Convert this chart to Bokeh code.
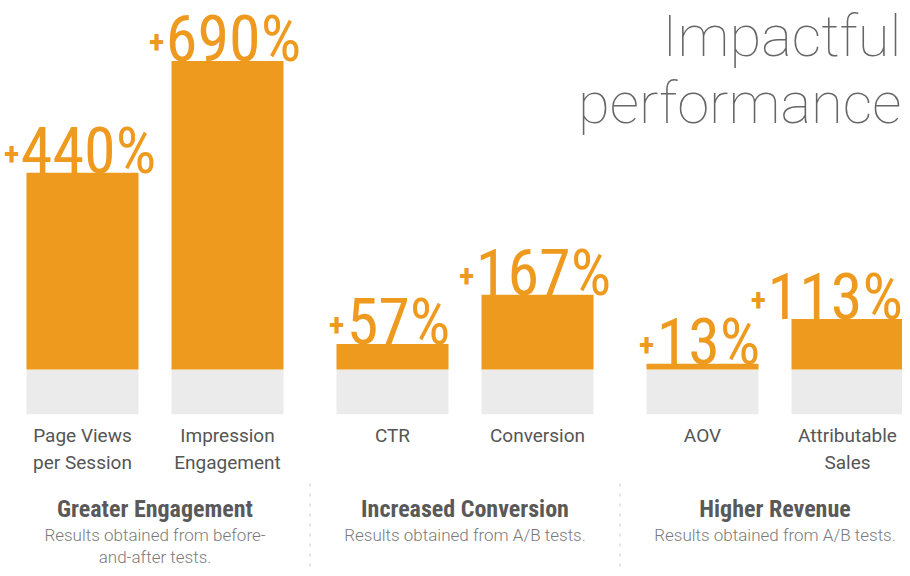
from bokeh.plotting import figure
from bokeh.models import Range1d, ColumnDataSource
from bokeh.core.properties import value
from bokeh.embed import file_html
from bokeh.resources import INLINE

# ---------------- data ----------------
categories = ["Page Views\nper Session", "Impression\nEngagement", "CTR",
              "Conversion", "AOV", "Attributable\nSales"]
lifts = [440, 690, 57, 167, 13, 113]          # % improvement
group_of = [0, 0, 1, 1, 2, 2]
group_titles = ["Greater Engagement", "Increased Conversion", "Higher Revenue"]
group_notes = ["Results obtained from before-\nand-after tests.",
               "Results obtained from A/B tests.",
               "Results obtained from A/B tests."]
baseline_pct = 100                              # the "before" level
title_lines = ["Impactful", "performance"]

# ---------------- styles / layout ----------------
W, H = 902, 568
BASE_PX = 369          # pixel row (from top of figure) of the 0% line
PX_PER_PCT = 0.447
X0, PITCH, GAP, BAR_W = 82, 145, 20, 112
ORANGE = "#EE9A1E"
GRAY = "#EBEBEB"
COND = "'Roboto Condensed', 'Noto Sans ExtraCondensed', 'DejaVu Sans Condensed', sans-serif"
NUM_SIZE = 64
PLUS_SIZE = 32
SHIFT = 0.37           # renderer places the alphabetic baseline ~0.37em low


def ypx(py):
    """figure pixel row -> data y"""
    return (BASE_PX - py) / PX_PER_PCT


def row(baseline_px, fs):
    return ypx(baseline_px - SHIFT * fs)


p = figure(width=W, height=H, output_backend="svg", toolbar_location=None,
           x_range=Range1d(0, W),
           y_range=Range1d(ypx(H), ypx(0)),
           min_border=0, outline_line_color=None)
p.axis.visible = False
p.grid.visible = False
p.background_fill_color = "white"
p.border_fill_color = "white"

xs = [X0 + i * PITCH + g * GAP for i, g in enumerate(group_of)]

# label geometry: number centred a little right of the bar centre, kept inside the figure
num_w = [NUM_SIZE * (0.47 * len(str(v)) + 0.66) for v in lifts]
num_off = [min(6, (W - 1 - w / 2) - x) for x, w in zip(xs, num_w)]
plus_off = [o - w / 2 - 3 for o, w in zip(num_off, num_w)]

src = ColumnDataSource(dict(
    x=xs, lift=lifts,
    num=[f"{v}%" for v in lifts],
    plus=["+"] * len(lifts),
    num_off=num_off, plus_off=plus_off,
))

# baseline (before) block and lift bars
p.vbar(x=xs, bottom=-baseline_pct, top=0, width=BAR_W, fill_color=GRAY, line_color=None)
p.vbar(x="x", bottom=0, top="lift", width=BAR_W, fill_color=ORANGE, line_color=None, source=src)

# value labels
p.text(x="x", y="lift", text="num", source=src, x_offset="num_off",
       y_offset=-SHIFT * NUM_SIZE + 2,
       text_align="center", text_baseline="alphabetic",
       text_font=value(COND), text_font_size=f"{NUM_SIZE}px", text_color=ORANGE)
p.text(x="x", y="lift", text="plus", source=src, x_offset="plus_off",
       y_offset=-7 - SHIFT * PLUS_SIZE,
       text_align="right", text_baseline="alphabetic",
       text_font=value(COND), text_font_style="bold",
       text_font_size=f"{PLUS_SIZE}px", text_color=ORANGE)

# category labels (one glyph per line)
CAT_FS = 19
lx, ly, lt = [], [], []
for x, c in zip(xs, categories):
    for k, line in enumerate(c.split("\n")):
        lx.append(x); ly.append(row(442 + 27 * k, CAT_FS)); lt.append(line)
p.text(x=lx, y=ly, text=lt, text_align="center", text_baseline="alphabetic",
       text_font=value("Roboto"), text_font_size=f"{CAT_FS}px", text_color="#555555")

# group headers and notes
HEAD_FS, NOTE_FS = 24, 17
gx = [sum(x for x, g in zip(xs, group_of) if g == gi) / group_of.count(gi)
      for gi in range(len(group_titles))]
p.text(x=gx, y=[row(517, HEAD_FS)] * len(gx), text=group_titles,
       text_align="center", text_baseline="alphabetic",
       text_font=value(COND), text_font_style="bold",
       text_font_size=f"{HEAD_FS}px", text_color="#595959")
nx, ny, nt = [], [], []
for x, n in zip(gx, group_notes):
    for k, line in enumerate(n.split("\n")):
        nx.append(x); ny.append(row(541 + 22 * k, NOTE_FS)); nt.append(line)
p.text(x=nx, y=ny, text=nt, text_align="center", text_baseline="alphabetic",
       text_font=value("'Roboto Light', Roboto"), text_font_size=f"{NOTE_FS}px",
       text_color="#7a7a7a")

# dashed separators between groups
sep_x = [(xs[i] + xs[i + 1]) / 2 for i in range(len(xs) - 1) if group_of[i] != group_of[i + 1]]
p.segment(x0=sep_x, x1=sep_x, y0=[ypx(483)] * len(sep_x), y1=[ypx(568)] * len(sep_x),
          line_color="#DCDCDC", line_width=1.5, line_dash="3 7")

# title
TITLE_FS = 58
p.text(x=[901] * 2, y=[row(57, TITLE_FS), row(124, TITLE_FS)], text=title_lines,
       text_align="right", text_baseline="alphabetic",
       text_font=value("'Roboto Thin', 'Roboto Light', Roboto"),
       text_font_size=f"{TITLE_FS}px", text_color="#666666")

open("out.html", "w").write(file_html(p, INLINE))
